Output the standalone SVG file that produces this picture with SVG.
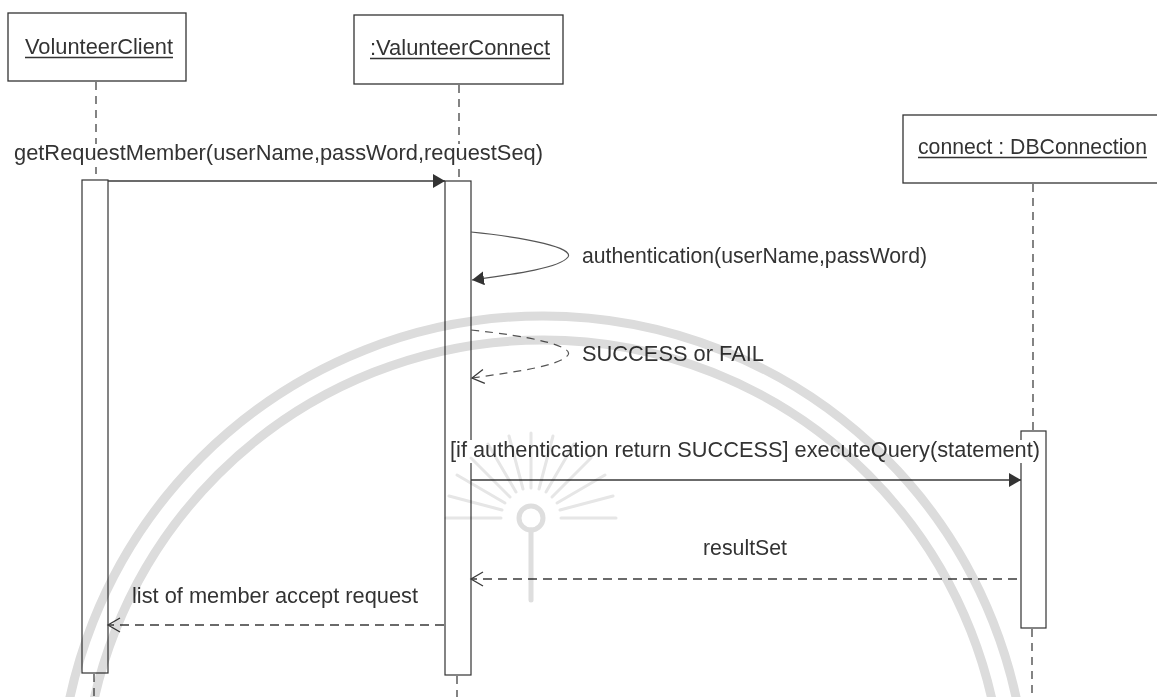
<svg xmlns="http://www.w3.org/2000/svg" width="1157" height="697" viewBox="0 0 1157 697">
  <style>
    .box { fill: #ffffff; stroke: #333333; stroke-width: 1.3; }
    .act { fill: #ffffff; stroke: #333333; stroke-width: 1.2; }
    .life { fill: none; stroke: #333333; stroke-width: 1.2; stroke-dasharray: 8 6; }
    .msg { fill: none; stroke: #3a3a3a; stroke-width: 1.3; }
    .ret { fill: none; stroke: #3a3a3a; stroke-width: 1.3; stroke-dasharray: 9 6; }
    .self { fill: none; stroke: #555555; stroke-width: 1.2; }
    .selfret { fill: none; stroke: #555555; stroke-width: 1.2; stroke-dasharray: 8 6; }
    .lbl { font-family: "Liberation Sans", Arial, sans-serif; font-size: 22.5px; fill: #333333; }
    .ul { stroke: #333333; stroke-width: 1.3; }
    .bg { fill: #ffffff; }
    .wm { fill: none; stroke: #dcdcdc; stroke-width: 9; }
    .wmthin { fill: none; stroke: #dedede; stroke-width: 5; stroke-linecap: round; }
    .ray { stroke: #e6e6e6; stroke-width: 3; stroke-linecap: round; }
  </style>
  <defs>
    <marker id="filled" markerUnits="userSpaceOnUse" markerWidth="14" markerHeight="16" refX="12" refY="7" orient="auto">
      <path d="M0,0 L12,7 L0,14 Z" fill="#333333"/>
    </marker>
    <marker id="open" markerUnits="userSpaceOnUse" markerWidth="16" markerHeight="18" refX="13" refY="8" orient="auto">
      <path d="M1,1 L13,8 L1,15" fill="none" stroke="#3a3a3a" stroke-width="1.3"/>
    </marker>
  </defs>

  <rect width="1157" height="697" fill="#ffffff"/>

  <!-- lifelines -->
  <g id="lifelines">
    <line class="life" x1="96" y1="82" x2="96" y2="180"/>
    <line class="life" x1="94" y1="674" x2="94" y2="697"/>
    <line class="life" x1="459" y1="85" x2="459" y2="181"/>
    <line class="life" x1="457" y1="676" x2="457" y2="697"/>
    <line class="life" x1="1033" y1="184" x2="1033" y2="431"/>
    <line class="life" x1="1032" y1="629" x2="1032" y2="697"/>
  </g>

  <!-- participant: VolunteerClient -->
  <g id="volunteer-client">
    <rect class="box" x="8" y="13" width="178" height="68"/>
    <text class="lbl" x="25" y="54" textLength="148" lengthAdjust="spacingAndGlyphs">VolunteerClient</text>
    <line class="ul" x1="25" y1="57.5" x2="173" y2="57.5"/>
    <rect class="act" x="82" y="180" width="26" height="493"/>
  </g>

  <!-- participant: ValunteerConnect -->
  <g id="valunteer-connect">
    <rect class="box" x="354" y="15" width="209" height="69"/>
    <text class="lbl" x="370" y="55" textLength="180" lengthAdjust="spacingAndGlyphs">:ValunteerConnect</text>
    <line class="ul" x1="370" y1="58.5" x2="550" y2="58.5"/>
    <rect class="act" x="445" y="181" width="26" height="494"/>
  </g>

  <!-- participant: DBConnection (box runs past the right page edge) -->
  <g id="db-connection">
    <rect class="box" x="903" y="115" width="262" height="68"/>
    <text class="lbl" x="918" y="154" textLength="229" lengthAdjust="spacingAndGlyphs">connect : DBConnection</text>
    <line class="ul" x1="918" y1="157.5" x2="1147" y2="157.5"/>
    <rect class="act" x="1021" y="431" width="25" height="197"/>
  </g>

  <!-- messages -->
  <g id="connectors">
    <line class="msg" x1="108" y1="181" x2="445" y2="181" marker-end="url(#filled)"/>
    <path class="self" d="M471,232 C530,238 574,248 568,257 C560,268 515,274 472,280" marker-end="url(#filled)"/>
    <path class="selfret" d="M471,330 C530,336 574,346 568,355 C560,366 515,372 472,378" marker-end="url(#open)"/>
    <line class="msg" x1="471" y1="480" x2="1021" y2="480" marker-end="url(#filled)"/>
    <line class="ret" x1="1017" y1="579" x2="471" y2="579" marker-end="url(#open)"/>
    <line class="ret" x1="444" y1="625" x2="108" y2="625" marker-end="url(#open)"/>
  </g>

  <!-- message labels -->
  <g id="labels">
    <rect class="bg" x="13" y="144" width="532" height="23"/>
    <text class="lbl" x="14" y="160" textLength="529" lengthAdjust="spacingAndGlyphs">getRequestMember(userName,passWord,requestSeq)</text>
    <text class="lbl" x="582" y="263" textLength="345" lengthAdjust="spacingAndGlyphs">authentication(userName,passWord)</text>
    <text class="lbl" x="582" y="361" textLength="182" lengthAdjust="spacingAndGlyphs">SUCCESS or FAIL</text>
    <rect class="bg" x="448" y="440" width="594" height="23"/>
    <text class="lbl" x="450" y="457" textLength="590" lengthAdjust="spacingAndGlyphs">[if authentication return SUCCESS] executeQuery(statement)</text>
    <text class="lbl" x="703" y="555" textLength="84" lengthAdjust="spacingAndGlyphs">resultSet</text>
    <text class="lbl" x="132" y="603" textLength="286" lengthAdjust="spacingAndGlyphs">list of member accept request</text>
  </g>

  <!-- faint seal printed over the page -->
  <g id="seal" style="mix-blend-mode: multiply">
    <circle class="wm" cx="543" cy="800" r="484"/>
    <circle class="wm" cx="543" cy="800" r="460"/>
    <g transform="translate(531 518)">
      <line class="ray" x1="-30" y1="0" x2="-85" y2="0"/>
      <line class="ray" x1="-29" y1="-8" x2="-82" y2="-22"/>
      <line class="ray" x1="-26" y1="-15" x2="-74" y2="-43"/>
      <line class="ray" x1="-21" y1="-21" x2="-60" y2="-60"/>
      <line class="ray" x1="-15" y1="-26" x2="-43" y2="-74"/>
      <line class="ray" x1="-8" y1="-29" x2="-22" y2="-82"/>
      <line class="ray" x1="0" y1="-30" x2="0" y2="-85"/>
      <line class="ray" x1="8" y1="-29" x2="22" y2="-82"/>
      <line class="ray" x1="15" y1="-26" x2="43" y2="-74"/>
      <line class="ray" x1="21" y1="-21" x2="60" y2="-60"/>
      <line class="ray" x1="26" y1="-15" x2="74" y2="-43"/>
      <line class="ray" x1="29" y1="-8" x2="82" y2="-22"/>
      <line class="ray" x1="30" y1="0" x2="85" y2="0"/>
      <circle class="wmthin" cx="0" cy="0" r="12"/>
      <line class="wmthin" x1="0" y1="12" x2="0" y2="82"/>
    </g>
  </g>
</svg>
